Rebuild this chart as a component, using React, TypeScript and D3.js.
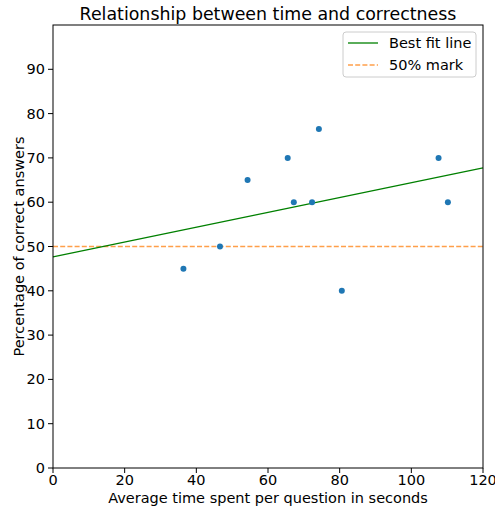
import React from "react";
import * as d3 from "d3";

// seconds per question vs. percentage correct
const times = [36.4, 46.6, 54.3, 65.5, 67.2, 72.3, 74.2, 80.6, 107.6, 110.2];
const scores = [45, 50, 65, 70, 60, 60, 76.5, 40, 70, 60];
const xTicks = [0, 20, 40, 60, 80, 100, 120];
const yTicks = [0, 10, 20, 30, 40, 50, 60, 70, 80, 90];
const legendItems = ["Best fit line", "50% mark"];

const W = 495;
const H = 508;
const margin = { top: 25, right: 12, bottom: 40, left: 53 };
const font = "DejaVu Sans, sans-serif";
const fs = 14.5;

export default function App() {
  const x = d3.scaleLinear().domain([0, 120]).range([margin.left, W - margin.right]);
  const y = d3.scaleLinear().domain([0, 100]).range([H - margin.bottom, margin.top]);

  // least squares fit
  const mx = d3.mean(times)!;
  const my = d3.mean(scores)!;
  const slope =
    d3.sum(times, (t, i) => (t - mx) * (scores[i] - my)) / d3.sum(times, (t) => (t - mx) ** 2);
  const intercept = my - slope * mx;
  const fit = d3.line<number>().x((t) => x(t)).y((t) => y(intercept + slope * t));

  const x0 = margin.left;
  const x1 = W - margin.right;
  const y0 = H - margin.bottom;
  const y1 = margin.top;

  return (
    <svg width={W} height={H} style={{ position: "absolute", left: 0, top: 0 }}>
      <rect width={W} height={H} fill="#fff" />
      <text x={(x0 + x1) / 2} y={20} textAnchor="middle" fontFamily={font} fontSize={17.4}>
        Relationship between time and correctness
      </text>

      <line x1={x0} x2={x1} y1={y(50)} y2={y(50)} stroke="#ff7f0e" strokeOpacity={0.75}
        strokeWidth={1.3} strokeDasharray="5,2.2" />
      <path d={fit([0, 120]) ?? ""} stroke="green" strokeWidth={1.3} fill="none" />

      {times.map((t, i) => (
        <circle key={i} cx={x(t)} cy={y(scores[i])} r={3} fill="#1f77b4" />
      ))}

      <rect x={x0} y={y1} width={x1 - x0} height={y0 - y1} fill="none" stroke="#000" strokeWidth={1} />

      {xTicks.map((t) => (
        <g key={t}>
          <line x1={x(t)} x2={x(t)} y1={y0} y2={y0 + 5} stroke="#000" />
          <text x={x(t)} y={y0 + 17} textAnchor="middle" fontFamily={font} fontSize={fs}>{t}</text>
        </g>
      ))}
      {yTicks.map((t) => (
        <g key={t}>
          <line x1={x0 - 5} x2={x0} y1={y(t)} y2={y(t)} stroke="#000" />
          <text x={x0 - 8} y={y(t) + 5} textAnchor="end" fontFamily={font} fontSize={fs}>{t}</text>
        </g>
      ))}

      <text x={(x0 + x1) / 2} y={H - 5.5} textAnchor="middle" fontFamily={font} fontSize={fs}>
        Average time spent per question in seconds
      </text>
      <text transform={`translate(23.5,${(y0 + y1) / 2}) rotate(-90)`} textAnchor="middle"
        fontFamily={font} fontSize={fs}>
        Percentage of correct answers
      </text>

      <g>
        <rect x={343} y={32} width={133} height={45} rx={3} fill="#fff" fillOpacity={0.8}
          stroke="#ccc" strokeWidth={1} />
        {legendItems.map((label, i) => (
          <g key={label}>
            <line x1={348} x2={378} y1={43 + i * 22} y2={43 + i * 22}
              stroke={i === 0 ? "green" : "#ff7f0e"} strokeOpacity={i === 0 ? 1 : 0.75}
              strokeWidth={1.3} strokeDasharray={i === 0 ? undefined : "5,2.2"} />
            <text x={389} y={48 + i * 22} fontFamily={font} fontSize={fs}>{label}</text>
          </g>
        ))}
      </g>
    </svg>
  );
}
